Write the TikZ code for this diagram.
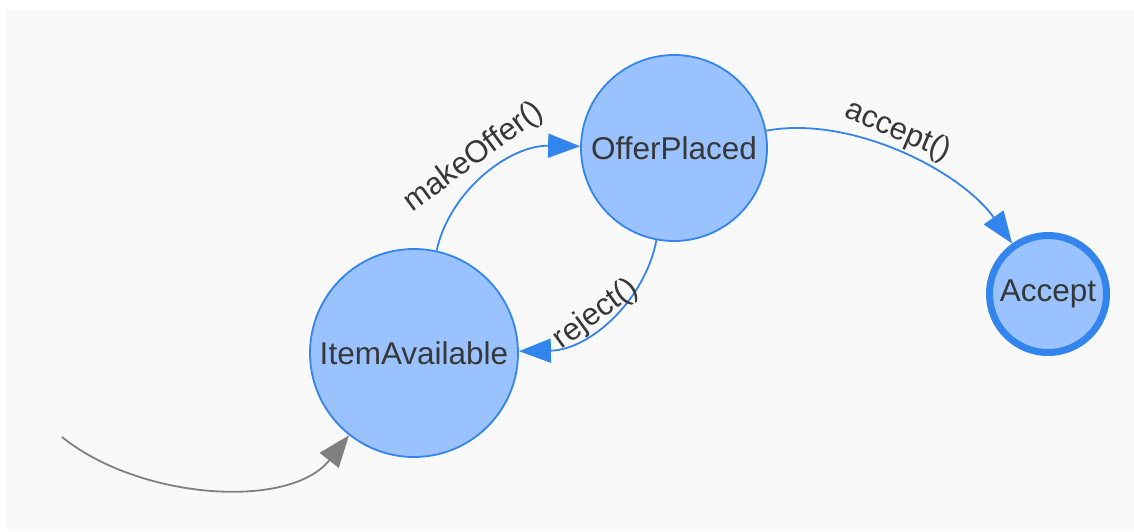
\documentclass[tikz,border=0pt]{standalone}
\usepackage{fontspec}
\setmainfont{Liberation Sans}
\usetikzlibrary{arrows.meta}
\definecolor{panelbg}{RGB}{249,249,249}
\definecolor{statefill}{RGB}{153,194,255}
\definecolor{stateline}{RGB}{51,133,238}
\definecolor{txt}{RGB}{55,55,55}
\definecolor{initgray}{RGB}{128,128,128}
\tikzset{
  state/.style={circle, draw=stateline, fill=statefill, line width=1.8pt, inner sep=0pt,
    text=txt, font=\fontsize{31.5}{38}\selectfont},
  final/.style={state, line width=7pt},
  trans/.style={draw=stateline, line width=1.8pt, -{Triangle[length=32pt,width=24pt]}},
  initarrow/.style={draw=initgray, line width=1.8pt, -{Triangle[length=32pt,width=24pt]}},
  elabel/.style={text=txt, font=\fontsize{31}{37}\selectfont, sloped}
}
\begin{document}
\begin{tikzpicture}[x=1pt, y=-1pt]
\useasboundingbox (0,0) rectangle (1134,531);
\fill[white] (0,0) rectangle (1134,531);
\fill[panelbg] (7,10) rectangle (1134,531);

\node[state, minimum size=208pt] (ia) at (414,353) {ItemAvailable};
\node[state, minimum size=186pt] (op) at (674,148) {OfferPlaced};
\node[final, minimum size=117pt] (acc) at (1048,294) {Accept};
\coordinate (init) at (62,437);

\draw[initarrow] (init) .. controls (140,500) and (290,510) .. (ia);
\draw[trans] (ia) .. controls (450,190) and (510,145) .. (op)
  node[elabel, pos=0.5, above, inner sep=7pt] {makeOffer()};
\draw[trans] (op) .. controls (645,300) and (590,350) .. (ia)
  node[elabel, pos=0.55, above=-4pt, inner sep=0pt] {reject()};
\draw[trans] (op) .. controls (850,115) and (960,170) .. (acc)
  node[elabel, pos=0.46, above, inner sep=4pt] {accept()};
\end{tikzpicture}
\end{document}
